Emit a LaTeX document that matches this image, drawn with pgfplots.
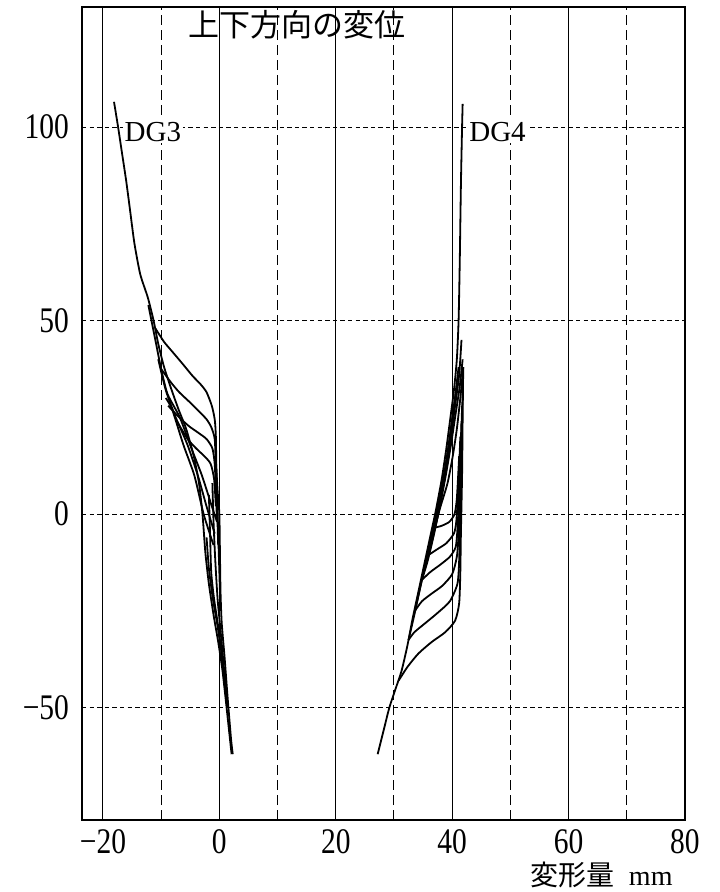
\documentclass[border=0pt]{standalone}
\usepackage{fontspec}
\setmainfont{Liberation Serif}
\newfontfamily\tickfont[FakeStretch=0.82]{Liberation Serif}
\newfontfamily\cjk{Noto Sans CJK JP}
\usepackage{pgfplots}
\pgfplotsset{compat=1.18}
\begin{document}
\begin{tikzpicture}
\useasboundingbox (-41pt,-36pt) rectangle (318.5pt,410pt);
\begin{axis}[
  at={(0pt,0pt)}, anchor=south west,
  scale only axis, width=301.5pt, height=406.5pt,
  xmin=-23.6, xmax=80, ymin=-79, ymax=131,
  axis line style={line width=0.6pt},
  xtick={-20,0,20,40,60,80},
  xticklabels={−20,0,20,40,60,80},
  ytick=\empty,
  minor ytick={-75,-25,25,75,125},
  extra y ticks={-50,0,50,100},
  extra y tick labels={−50,0,50,100},
  extra y tick style={grid=major, major grid style={black, line width=0.5pt, dash pattern=on 2.2pt off 1.6pt}, major tick length=0pt},
  extra x ticks={-10,10,30,50,70},
  extra x tick labels={},
  extra x tick style={grid=major, major grid style={black, line width=0.5pt, dash pattern=on 5pt off 2.5pt}, major tick length=0pt},
  xmajorgrids, major grid style={black, line width=0.5pt},
  major tick length=0pt, minor tick length=2.5pt,
  tick align=inside, tick pos=both,
  tick style={black, line width=0.5pt},
  /pgf/number format/assume math mode=true,
  ticklabel style={font=\tickfont\fontsize{18}{18}\selectfont},
  xticklabel style={yshift=-1pt},
  yticklabel style={xshift=-3pt},
  xlabel={{\cjk 変形量}\hspace{7pt}mm},
  xlabel style={at={(axis description cs:0.98,-0.068)}, anchor=east, font=\fontsize{14}{14}\selectfont, inner sep=0pt},
  cycle list={{black, solid, line width=0.9pt}},
  every axis plot post/.append style={black, solid, line width=0.9pt, mark=none, smooth, tension=0.4},
  clip=false,
]
% ---------- DG3 ----------
\addplot coordinates {(-18.1,106.5) (-17.4,100) (-16.7,93) (-16.0,86) (-15.3,78) (-14.6,70) (-13.6,62) (-12.3,56) (-11.3,50) (-10.5,44) (-9.5,38) (-8.3,32.5) (-7,27) (-5.7,22) (-4.4,15) (-3.5,8) (-2.9,0) (-2.4,-10) (-1.8,-18) (-1.0,-26) (-0.2,-33) (0.5,-40) (1.1,-48) (1.6,-55) (2.1,-62)};
\addplot coordinates {(-0.6,14) (-0.3,6) (0,0) (0.1,-10) (0.2,-20) (0.4,-28) (0.9,-37) (1.4,-47) (2.0,-58) (2.3,-62)};
\addplot coordinates {(-11,48) (-9.5,44.5) (-8.1,42) (-6.3,38.8) (-4.6,35.7) (-3.2,33.5) (-2.2,31.5) (-1.3,28) (-0.8,24.5) (-0.6,20) (-0.5,10) (-0.3,0) (-0.1,-10) (0.1,-20)};
\addplot coordinates {(-10,37.5) (-8.3,34) (-6.9,31.5) (-5,28.8) (-3.4,26.4) (-2.2,24.5) (-1.4,22.5) (-0.8,19.4) (-0.6,12) (-0.4,2) (-0.2,-8)};
\addplot coordinates {(-8.8,28) (-6.9,25) (-5.2,22.7) (-3.6,21) (-2.2,19.4) (-1.2,17) (-0.8,13) (-0.6,6) (-0.4,-2)};
\addplot coordinates {(-7.3,24) (-5.5,19.5) (-4,17) (-2.6,15) (-1.5,13) (-0.9,9) (-0.6,2)};
\addplot coordinates {(-0.4,-2) (-1.5,3) (-3,10) (-4.8,17) (-6.8,25) (-8.9,31) (-10,37.5) (-11,45) (-12.2,54)};
\addplot coordinates {(-0.8,-5) (-2.2,2) (-3.7,10) (-5.5,18) (-7.5,25) (-9.2,32) (-10.5,40)};
\addplot coordinates {(-1,-8) (-2.7,0) (-4.3,10) (-6.2,18) (-8.1,27) (-9.2,30)};
\addplot coordinates {(-1.8,5) (-1.6,-5) (-1.4,-15) (-0.9,-22) (-0.3,-28) (0.3,-35) (1.0,-45)};
\addplot coordinates {(-2.2,-6) (-1.8,-14) (-1.1,-22) (-0.3,-29) (0.6,-38)};
\addplot coordinates {(-1.2,8) (-1.0,-2) (-0.7,-12) (-0.3,-22) (0.2,-30) (0.8,-40) (1.4,-50)};
% ---------- DG4 ----------
\addplot coordinates {(27.2,-62) (28.2,-56) (29.2,-50) (30.3,-45) (31.3,-40.5) (32.3,-34) (33.2,-27) (34.2,-20) (35.2,-13) (36.2,-6) (37.2,1) (38.2,9) (39,17) (39.7,25) (40.3,32) (40.8,40) (41.1,50) (41.3,65) (41.5,85) (41.7,100) (41.8,106)};
\addplot coordinates {(41.9,38) (41.8,25) (41.7,10) (41.5,-5) (41.4,-15) (41.2,-23) (40.5,-27.5) (38.8,-30.5) (36.5,-33) (34.2,-36) (32.3,-39.5) (30.8,-43)};
\addplot coordinates {(41.8,33) (41.6,15) (41.4,0) (41.2,-12) (40.9,-18) (39.6,-22.5) (37.5,-25.5) (35.5,-28) (33.5,-30.5) (32.5,-32.5)};
\addplot coordinates {(41.7,28) (41.4,10) (41.1,-5) (40.8,-11) (40,-15.5) (38.3,-18.5) (36.5,-20.5) (34.8,-22.5) (33.6,-25)};
\addplot coordinates {(41.6,24) (41.2,5) (40.9,-4) (40.6,-8.5) (39.6,-11) (38,-13) (36.2,-15) (34.8,-17)};
\addplot coordinates {(41.4,20) (41,5) (40.7,-2) (40.3,-5) (39,-7.5) (37.5,-9) (36,-10.5)};
\addplot coordinates {(41.2,15) (40.8,4) (40.4,0) (39.5,-2) (38.2,-3) (37,-3.5)};
\addplot coordinates {(34.8,-17) (35.8,-12) (36.9,-5) (38,3) (39,12) (39.8,20) (40.5,28) (41.2,36) (41.6,45)};
\addplot coordinates {(36,-10.5) (37,-4) (38,3) (38.9,10) (39.8,18) (40.6,26) (41.3,33) (41.8,40)};
\addplot coordinates {(37,-3.5) (38,2) (39.2,8) (40.1,15) (40.8,22) (41.4,30) (41.9,38)};
\addplot coordinates {(33.6,-25) (34.5,-19) (35.5,-12) (36.6,-5) (37.6,2) (38.6,10) (39.5,19) (40.2,27) (40.9,34)};
\addplot coordinates {(32.5,-32.5) (33.5,-26) (34.5,-19) (35.6,-12) (36.6,-5) (37.7,3) (38.8,12) (39.6,20) (40.4,29) (41.1,38)};
% ---------- labels ----------
\node[font=\cjk\fontsize{15.5}{15.5}\selectfont, inner sep=0pt] at (axis cs:13.4,126.5) {上下方向の変位};
\node[font=\fontsize{14.5}{14.5}\selectfont, fill=white, inner sep=0.8pt, anchor=west] at (axis cs:-16.6,98.8) {DG3};
\node[font=\fontsize{14.5}{14.5}\selectfont, fill=white, inner sep=0.8pt, anchor=west] at (axis cs:42.6,98.8) {DG4};
\end{axis}
\end{tikzpicture}
\end{document}
